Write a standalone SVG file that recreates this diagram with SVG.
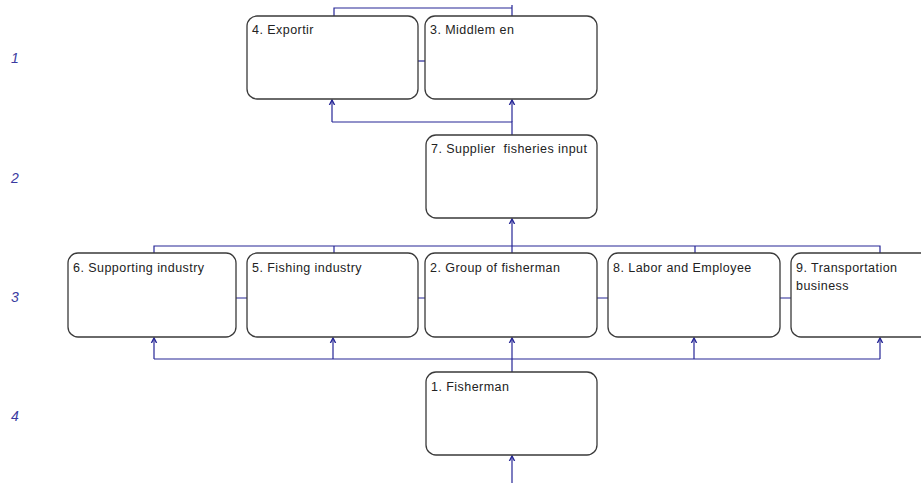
<svg xmlns="http://www.w3.org/2000/svg" width="921" height="483" viewBox="0 0 921 483">
<style>
.box{fill:#fff;stroke:#3a3a3a;stroke-width:1.3}
.t{font-family:"Liberation Sans",Arial,sans-serif;font-size:12.5px;letter-spacing:0.45px;fill:#222}
.lvl{font-family:"Liberation Sans",Arial,sans-serif;font-size:14px;font-style:italic;fill:#3a3aa0}
.c{fill:none;stroke:#262696;stroke-width:1.2}
</style>
<defs>
<marker id="ah" markerUnits="userSpaceOnUse" markerWidth="10" markerHeight="10" viewBox="-5 -5 10 10" refX="0" refY="0" orient="auto">
<path d="M-5,-2.6 L0,0 L-5,2.6" fill="none" stroke="#262696" stroke-width="1.4"/>
</marker>
</defs>
<rect width="921" height="483" fill="#fff"/>
<g id="levels">
<text class="lvl" x="11" y="63">1</text>
<text class="lvl" x="11" y="183">2</text>
<text class="lvl" x="11" y="302">3</text>
<text class="lvl" x="11" y="421">4</text>
</g>
<g id="connectors">
<path class="c" d="M334,16 V8 H512 V16 M512,5 V11"/>
<path class="c" d="M418,61 H425"/>
<path class="c" d="M512,135 V122 H332"/>
<path class="c" marker-end="url(#ah)" d="M332,122 V100"/>
<path class="c" marker-end="url(#ah)" d="M512,122 V100"/>
<path class="c" d="M154,253 V246 H880 V253 M334,246 V253 M695,246 V253"/>
<path class="c" marker-end="url(#ah)" d="M512,253 V219"/>
<path class="c" d="M236,298 H247 M418,298 H425 M597,298 H608 M780,298 H791"/>
<path class="c" d="M512,372 V359 M154,359 H880"/>
<path class="c" marker-end="url(#ah)" d="M154,359 V338"/>
<path class="c" marker-end="url(#ah)" d="M333,359 V338"/>
<path class="c" marker-end="url(#ah)" d="M512,359 V338"/>
<path class="c" marker-end="url(#ah)" d="M694,359 V338"/>
<path class="c" marker-end="url(#ah)" d="M880,359 V338"/>
<path class="c" marker-end="url(#ah)" d="M512,483 V456"/>
</g>
<g id="n4"><rect class="box" x="247" y="16" width="171" height="83" rx="10"/><text class="t" x="252" y="34">4. Exportir</text></g>
<g id="n3"><rect class="box" x="425" y="16" width="172" height="83" rx="10"/><text class="t" x="430" y="34">3. Middlem en</text></g>
<g id="n7"><rect class="box" x="426" y="135" width="171" height="83" rx="10"/><text class="t" x="431" y="153" xml:space="preserve">7. Supplier  fisheries input</text></g>
<g id="n6"><rect class="box" x="68" y="253" width="168" height="84" rx="10"/><text class="t" x="73" y="272">6. Supporting industry</text></g>
<g id="n5"><rect class="box" x="247" y="253" width="171" height="84" rx="10"/><text class="t" x="252" y="272">5. Fishing industry</text></g>
<g id="n2"><rect class="box" x="425" y="253" width="172" height="84" rx="10"/><text class="t" x="430" y="272">2. Group of fisherman</text></g>
<g id="n8"><rect class="box" x="608" y="253" width="172" height="84" rx="10"/><text class="t" x="613" y="272">8. Labor and Employee</text></g>
<g id="n9"><rect class="box" x="791" y="253" width="172" height="84" rx="10"/><text class="t" x="796" y="272">9. Transportation</text><text class="t" x="796" y="290">business</text></g>
<g id="n1"><rect class="box" x="426" y="372" width="171" height="83" rx="10"/><text class="t" x="431" y="391">1. Fisherman</text></g>
</svg>
